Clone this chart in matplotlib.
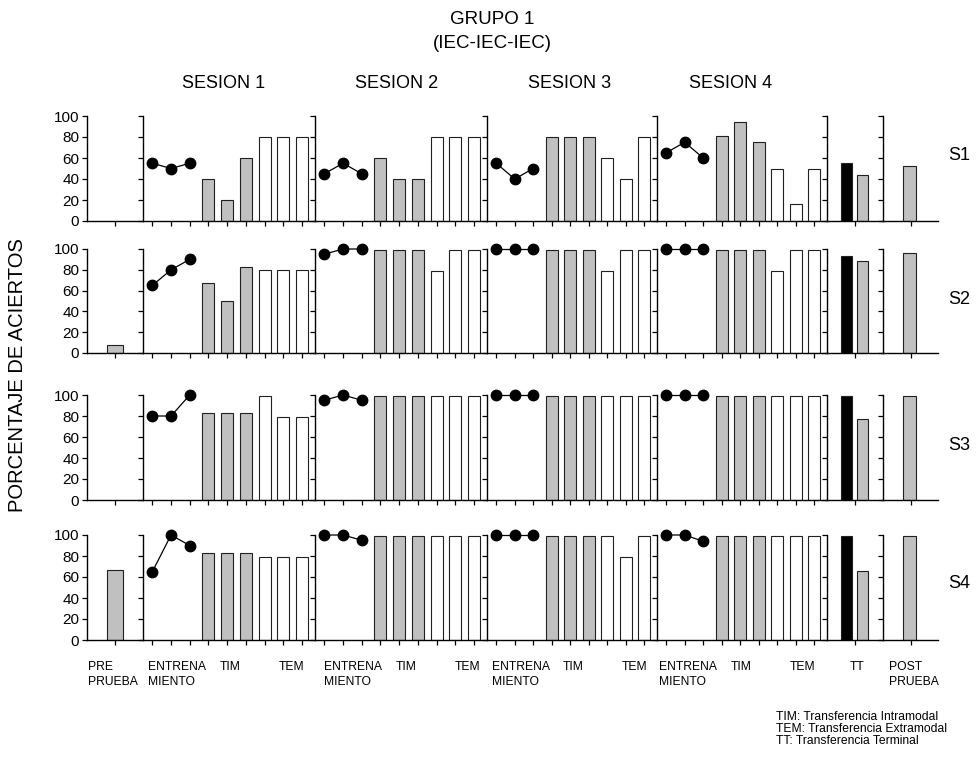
import matplotlib
matplotlib.use("Agg")
import matplotlib.pyplot as plt

plt.rcParams['font.family'] = ['Liberation Sans', 'DejaVu Sans']

# ---------------- data ----------------
subjects = ["S1", "S2", "S3", "S4"]
sessions = ["SESION 1", "SESION 2", "SESION 3", "SESION 4"]

pre_test = [0, 8, 0, 67]

# training (ENTRENAMIENTO): 3 blocks per session, per subject
training = {
    "S1": [[55, 50, 55], [45, 55, 45], [55, 40, 50], [65, 75, 60]],
    "S2": [[65, 80, 90], [95, 100, 100], [100, 100, 100], [100, 100, 100]],
    "S3": [[80, 80, 100], [95, 100, 95], [100, 100, 100], [100, 100, 100]],
    "S4": [[65, 100, 90], [100, 100, 95], [100, 100, 100], [100, 100, 94]],
}

# intramodal transfer (TIM)
tim = {
    "S1": [[40, 20, 60], [60, 40, 40], [80, 80, 80], [81, 94, 75]],
    "S2": [[67, 50, 83], [99, 99, 99], [99, 99, 99], [99, 99, 99]],
    "S3": [[83, 83, 83], [99, 99, 99], [99, 99, 99], [99, 99, 99]],
    "S4": [[83, 83, 83], [99, 99, 99], [99, 99, 99], [99, 99, 99]],
}

# extramodal transfer (TEM)
tem = {
    "S1": [[80, 80, 80], [80, 80, 80], [60, 40, 80], [50, 16, 50]],
    "S2": [[80, 80, 80], [79, 99, 99], [79, 99, 99], [79, 99, 99]],
    "S3": [[99, 79, 79], [99, 99, 99], [99, 99, 99], [99, 99, 99]],
    "S4": [[79, 79, 79], [99, 99, 99], [99, 79, 99], [99, 99, 99]],
}

# terminal transfer (TT): [black bar, gray bar]
terminal = {
    "S1": [55, 44],
    "S2": [93, 88],
    "S3": [99, 77],
    "S4": [99, 66],
}

post_test = [52, 96, 99, 99]

y_ticks = [0, 20, 40, 60, 80, 100]

bottom_labels = [
    ("PRE\nPRUEBA", 88), ("ENTRENA\nMIENTO", 148), ("TIM", 220), ("TEM", 279),
    ("ENTRENA\nMIENTO", 324), ("TIM", 396), ("TEM", 455),
    ("ENTRENA\nMIENTO", 492), ("TIM", 563), ("TEM", 622),
    ("ENTRENA\nMIENTO", 659), ("TIM", 731), ("TEM", 790),
    ("TT", 850), ("POST\nPRUEBA", 889),
]

legend_lines = [
    "TIM: Transferencia Intramodal",
    "TEM: Transferencia Extramodal",
    "TT: Transferencia Terminal",
]

# ---------------- layout (pixels) ----------------
W, H = 977, 757
panel_x = {
    "pre": (87, 143),
    0: (143, 315),
    1: (315, 487),
    2: (487, 657),
    3: (657, 827),
    "tt": (827, 883),
    "post": (883, 938),
}
row_y = [(116, 221), (249, 353), (395, 500), (535, 640)]
subject_label_y = [155, 300, 446, 583]

GRAY = "#c0c0c0"
EDGE = "#202020"

fig = plt.figure(figsize=(W / 100, H / 100), dpi=100)


def make_axes(x0, x1, y0, y1):
    ax = fig.add_axes([x0 / W, 1 - y1 / H, (x1 - x0) / W, (y1 - y0) / H])
    ax.set_facecolor("none")
    ax.set_ylim(0, 100)
    ax.set_yticks(y_ticks)
    ax.set_yticklabels([])
    for s in ("top", "right"):
        ax.spines[s].set_visible(False)
    for s in ("left", "bottom"):
        ax.spines[s].set_linewidth(1.0)
    ax.tick_params(direction="out", length=3.5, width=0.9, labelsize=11,
                   pad=2)
    ax.set_xticklabels([])
    return ax


for r, subj in enumerate(subjects):
    y0, y1 = row_y[r]

    # pre-test
    ax = make_axes(*panel_x["pre"], y0, y1)
    ax.set_xlim(-1.5, 1.5)
    ax.set_xticks([0])
    ax.set_xticklabels([])
    ax.set_yticklabels([str(v) for v in y_ticks])
    if pre_test[r] > 0:
        ax.bar(0, pre_test[r], width=0.85, color=GRAY, edgecolor=EDGE,
               linewidth=0.8)

    # sessions
    for s in range(4):
        ax = make_axes(*panel_x[s], y0, y1)
        ax.set_xlim(-0.5, 8.7)
        ax.set_xticks(range(9))
        ax.set_xticklabels([])
        ax.plot([0, 1, 2], training[subj][s], color="black", lw=0.9,
                marker="o", ms=7.5, clip_on=False, zorder=4)
        ax.bar([3, 4, 5], tim[subj][s], width=0.64, color=GRAY,
               edgecolor=EDGE, linewidth=0.8)
        ax.bar([6, 7, 8], tem[subj][s], width=0.64, color="white",
               edgecolor=EDGE, linewidth=0.8)

    # terminal transfer
    ax = make_axes(*panel_x["tt"], y0, y1)
    ax.set_xlim(-1.5, 1.5)
    ax.set_xticks([0])
    ax.set_xticklabels([])
    ax.bar([-0.45, 0.4], terminal[subj], width=0.6,
           color=["black", GRAY], edgecolor=EDGE, linewidth=0.8)

    # post-test
    ax = make_axes(*panel_x["post"], y0, y1)
    ax.set_xlim(-1.5, 1.5)
    ax.set_xticks([0])
    ax.set_xticklabels([])
    ax.bar(-0.05, post_test[r], width=0.7, color=GRAY, edgecolor=EDGE,
           linewidth=0.8)

    # subject label
    fig.text(948 / W, 1 - subject_label_y[r] / H, subj, fontsize=13,
             ha="left", va="center")


def px_text(x, y, s, **kw):
    fig.text(x / W, 1 - y / H, s, **kw)


px_text(492, 20, "GRUPO 1", fontsize=13.5, ha="center", va="center")
px_text(492, 44, "(IEC-IEC-IEC)", fontsize=13.5, ha="center", va="center")

for name, xc in zip(sessions, [224, 397, 570, 731]):
    px_text(xc, 84, name, fontsize=13, ha="center", va="center")

px_text(18, 375, "PORCENTAJE DE ACIERTOS", fontsize=14.5, rotation=90,
        ha="center", va="center")

for text, x in bottom_labels:
    px_text(x, 661, text, fontsize=8.7, ha="left", va="top", linespacing=1.3)

for i, line in enumerate(legend_lines):
    px_text(776, 717 + 12 * i, line, fontsize=8.7, ha="left", va="center")

fig.savefig("out.png", dpi=100)
